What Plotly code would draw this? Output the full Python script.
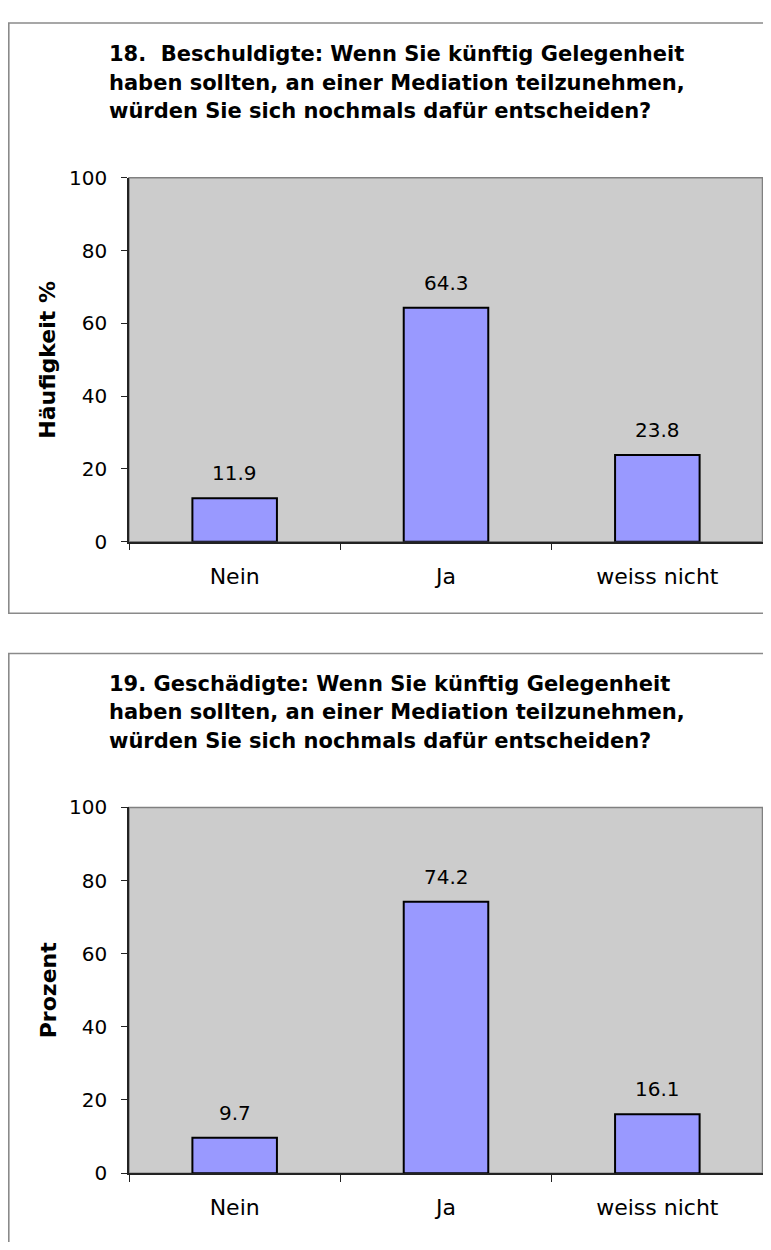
import plotly.graph_objects as go

categories = ["Nein", "Ja", "weiss nicht"]
values_18 = [11.9, 64.3, 23.8]
values_19 = [9.7, 74.2, 16.1]
title_18 = ["18.  Beschuldigte: Wenn Sie künftig Gelegenheit",
            "haben sollten, an einer Mediation teilzunehmen,",
            "würden Sie sich nochmals dafür entscheiden?"]
title_19 = ["19. Geschädigte: Wenn Sie künftig Gelegenheit",
            "haben sollten, an einer Mediation teilzunehmen,",
            "würden Sie sich nochmals dafür entscheiden?"]
ytitle_18 = "Häufigkeit %"
ytitle_19 = "Prozent"
y_ticks = [0, 20, 40, 60, 80, 100]

# page is 771x1250, body has a default 8px margin
OFF = 8
W, H = 771 - 2 * OFF, 1250 - 2 * OFF
def px_x(p): return (p - OFF) / W
def px_y(p): return 1 - (p - OFF) / H

BAR = "#9999FF"
PLOT_BG = "#CCCCCC"
FONT = "DejaVu Sans"
AXC = "#222222"

fig = go.Figure()

panels = [
    dict(vals=values_18, title=title_18, ytitle=ytitle_18, top=169, bottom=540,
         box_top=11, box_bottom=613, title_y=[43, 72, 101], n=1),
    dict(vals=values_19, title=title_19, ytitle=ytitle_19, top=811, bottom=1184,
         box_top=654, box_bottom=1290, title_y=[685, 714, 743], n=2),
]

left, right = 129, 763
annotations = []
shapes = []
layout_axes = {}
for p in panels:
    n = p["n"]
    main = "" if n == 1 else str(n)
    ov = str(n + 2)
    xa, ya = "x" + main, "y" + main
    fig.add_trace(go.Bar(
        x=categories, y=p["vals"], width=0.4,
        marker=dict(color=BAR, line=dict(color="black", width=2)),
        xaxis=xa, yaxis=ya, showlegend=False, hoverinfo="x+y",
    ))
    xdom = [px_x(left), min(1, px_x(right))]
    ydom = [px_y(p["bottom"]), px_y(p["top"])]
    layout_axes["xaxis" + main] = dict(
        domain=xdom, anchor=ya, type="category", range=[-0.5, 2.5],
        tickson="boundaries", ticks="outside", ticklen=7, tickcolor=AXC,
        tickwidth=1, showline=True, linecolor=AXC, linewidth=1.5,
        showgrid=False, zeroline=False,
        tickfont=dict(family=FONT, size=22, color="black"),
        ticklabelstandoff=14, fixedrange=True,
    )
    layout_axes["yaxis" + main] = dict(
        domain=ydom, anchor=xa, range=[0, 100], tickvals=y_ticks,
        ticks="outside", ticklen=6, tickcolor=AXC, tickwidth=1,
        showline=True, linecolor=AXC, linewidth=1.5, showgrid=False,
        zeroline=False, tickfont=dict(family=FONT, size=20, color="black"),
        ticklabelstandoff=10, fixedrange=True,
    )
    # overlay axes to draw the inner half of the crossing tick marks
    layout_axes["xaxis" + ov] = dict(
        overlaying=xa, anchor=ya, domain=xdom, range=[-0.5, 2.5],
        tickvals=[-0.5, 0.5, 1.5, 2.5], ticks="inside", ticklen=6,
        tickcolor=AXC, tickwidth=1, showticklabels=False, showline=False,
        showgrid=False, zeroline=False, fixedrange=True,
    )
    layout_axes["yaxis" + ov] = dict(
        overlaying=ya, anchor=xa, domain=ydom, range=[0, 100], tickvals=y_ticks,
        ticks="inside", ticklen=8, tickcolor=AXC, tickwidth=1,
        showticklabels=False, showline=False, showgrid=False, zeroline=False,
        fixedrange=True,
    )
    # plot area fill with gray border (top/right)
    shapes.append(dict(type="rect", xref="paper", yref="paper",
                       x0=px_x(left), x1=px_x(right) - 0.5 / W, y0=px_y(p["bottom"]), y1=px_y(p["top"]),
                       line=dict(color="#808080", width=1.5), fillcolor=PLOT_BG, layer="below"))
    # outer panel frame
    shapes.append(dict(type="rect", xref="paper", yref="paper",
                       x0=px_x(8.8), x1=px_x(800), y0=px_y(p["box_bottom"]), y1=px_y(p["box_top"]),
                       line=dict(color="#8a8a8a", width=1.6), fillcolor="rgba(0,0,0,0)", layer="below"))
    for line, yy in zip(p["title"], p["title_y"]):
        annotations.append(dict(text=line, xref="paper", yref="paper", x=px_x(107), y=px_y(yy),
                                xanchor="left", yanchor="middle", showarrow=False,
                                font=dict(family=FONT, size=21, color="black", weight="bold")))
    annotations.append(dict(text=p["ytitle"], xref="paper", yref="paper", x=px_x(48),
                            y=px_y((p["top"] + p["bottom"]) / 2), textangle=-90,
                            xanchor="center", yanchor="middle", showarrow=False,
                            font=dict(family=FONT, size=22, color="black", weight="bold")))
    for c, v in zip(categories, p["vals"]):
        annotations.append(dict(text=f"{v:.1f}", x=c, y=v, xref=xa, yref=ya,
                                xanchor="center", yanchor="bottom", yshift=11, showarrow=False,
                                font=dict(family=FONT, size=20, color="black")))

fig.update_layout(
    width=W, height=H, margin=dict(l=0, r=0, t=0, b=0),
    paper_bgcolor="white", plot_bgcolor="rgba(0,0,0,0)",
    shapes=shapes, annotations=annotations, showlegend=False,
    font=dict(family=FONT), **layout_axes,
)

fig.write_html("out.html")
